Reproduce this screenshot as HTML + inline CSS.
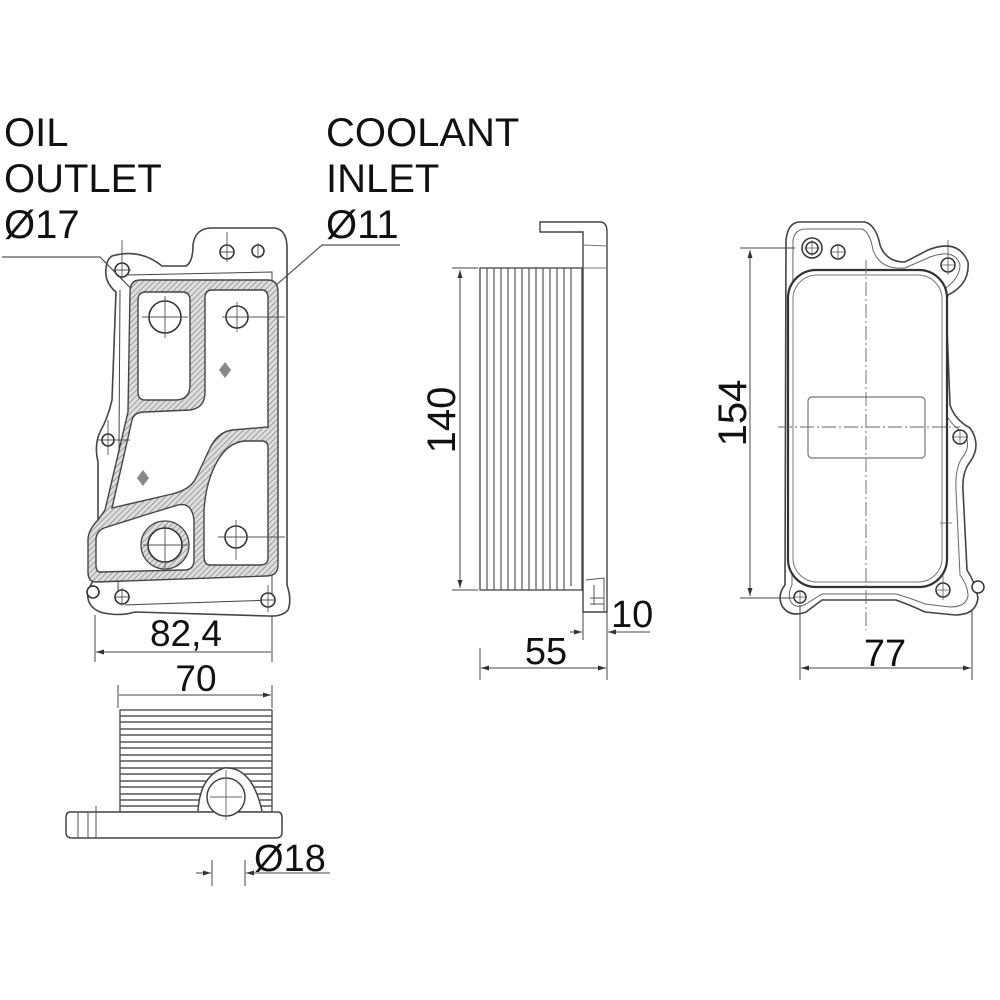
<!DOCTYPE html>
<html><head><meta charset="utf-8"><style>
html,body{margin:0;padding:0;background:#fff}
svg{display:block}
text{font-family:"Liberation Sans",Arial,sans-serif;fill:#111}
</style></head><body>
<svg width="1000" height="1000" viewBox="0 0 1000 1000" xmlns="http://www.w3.org/2000/svg">
<defs>
<pattern id="h" width="4" height="4" patternUnits="userSpaceOnUse" patternTransform="rotate(45)">
<rect width="4" height="4" fill="#ddd"/><line x1="0" y1="0" x2="0" y2="4" stroke="#777" stroke-width="1.2"/>
</pattern>
<marker id="a" markerWidth="8" markerHeight="6" refX="8" refY="3" orient="auto-start-reverse"><path d="M0,0.5 L8,3 L0,5.5Z" fill="#333"/></marker>
</defs>

<!-- labels -->
<g font-size="40">
<text x="4" y="146">OIL</text>
<text x="4" y="192">OUTLET</text>
<text x="4" y="238">Ø17</text>
<text x="326" y="146">COOLANT</text>
<text x="326" y="192">INLET</text>
<text x="326" y="238">Ø11</text>
</g>
<g stroke="#555" stroke-width="1.2" fill="none">
<path d="M2,257 L100,257 L152,310"/>
<path d="M400,245 L322,245 L243,314"/>
</g>

<!-- LEFT FRONT VIEW -->
<g stroke="#444" stroke-width="1.6" fill="none">
<path d="M112,256 Q140,248 162,266 L186,266 Q193,262 193,245 Q195,228 212,228 L275,228 Q287,230 287,248 L287,585 Q292,600 288,610 Q282,617 268,616 L135,612 Q118,617 100,612 Q86,606 88,592 Q92,580 98,575 L98,462 Q94,445 100,432 Q108,418 112,400 L116,292 Q104,282 106,268 Q107,259 112,256 Z"/>
<path d="M120,290 L118,600" stroke-width="1"/>
<path d="M125,275 L272,272 L272,600 L125,605" stroke-width="1"/>
</g>
<!-- gasket -->
<path d="M140,280 L268,280 Q278,280 278,292 L278,565 Q278,576 266,576 L96,582 Q88,582 88,572 L88,540 Q88,530 98,520 L105,510 L128,412 L130,292 Q130,280 140,280 Z" fill="url(#h)" stroke="#444" stroke-width="1.4"/>
<g fill="#fff" stroke="#444" stroke-width="1.4">
<path d="M146,292 L182,292 Q190,292 190,300 L190,385 Q190,400 175,400 L145,400 Q138,400 138,392 L138,300 Q138,292 146,292 Z"/>
<path d="M212,290 L262,290 Q268,290 268,298 L268,427 L232,430 Q218,432 210,448 L196,478 Q190,490 172,494 L112,508 L132,420 Q134,412 145,412 L190,410 Q205,408 205,392 L205,298 Q205,290 212,290 Z"/>
<path d="M104,528 L145,515 L178,505 Q192,502 194,520 L194,560 Q194,570 184,570 L100,572 Q96,572 96,565 L96,538 Q97,531 104,528 Z"/>
<path d="M244,441 L262,441 Q268,441 268,448 L268,558 Q268,565 260,565 L210,565 Q204,565 204,556 L204,510 Q206,480 218,460 Q228,443 244,441 Z"/>
</g>
<circle cx="165" cy="545" r="24" fill="url(#h)" stroke="#444" stroke-width="1.3"/>
<g fill="#fff" stroke="#333" stroke-width="1.6">
<circle cx="165" cy="317" r="16"/>
<circle cx="237" cy="317" r="11"/>
<circle cx="165" cy="545" r="17"/>
<circle cx="236" cy="537" r="11"/>
<circle cx="122" cy="270" r="7"/>
<circle cx="227" cy="252" r="7"/>
<circle cx="258" cy="251" r="6"/>
<circle cx="108" cy="440" r="6"/>
<circle cx="93" cy="592" r="6"/>
<circle cx="122" cy="597" r="7"/>
<circle cx="268" cy="600" r="7"/>
</g>
<g stroke="#555" stroke-width="0.9">
<path d="M142,317 L188,317 M165,296 L165,338 M222,317 L285,317 M237,302 L237,332 M143,545 L188,545 M165,525 L165,568 M218,537 L285,537 M236,520 L236,560 M113,270 L131,270 M122,240 L122,280 M227,232 L227,262 M219,252 L235,252 M258,243 L258,259 M98,440 L130,440 M108,420 L108,455 M268,585 L268,612 M260,600 L276,600 M122,588 L122,606 M114,597 L130,597"/>
<path d="M225,362 L231,370 L225,378 L219,370 Z M143,470 L149,478 L143,486 L137,478 Z" fill="#888" stroke="none"/>
</g>
<!-- dims 82,4 / 70 -->
<g stroke="#444" stroke-width="1">
<path d="M95,615 L95,662 M272,615 L272,662 M118,685 L118,708 M272,685 L272,708"/>
<path d="M96,652 L271,652 M119,695 L271,695" marker-start="url(#a)" marker-end="url(#a)"/>
</g>
<text x="186" y="646" font-size="37" text-anchor="middle">82,4</text>
<text x="196" y="691" font-size="37" text-anchor="middle">70</text>

<!-- bottom view -->
<rect x="120" y="710" width="152" height="102" fill="#fff" stroke="#444" stroke-width="1.3"/>
<g stroke="#555" stroke-width="1.6">
<path d="M120,716H272M120,722H272M120,729H272M120,735H272M120,742H272M120,748H272M120,755H272M120,761H272M120,768H272M120,774H272M120,781H272M120,787H272M120,794H272M120,800H272M120,806H272"/>
</g>
<path d="M70,812 L278,812 Q282,812 282,818 L282,832 Q282,838 276,838 L72,838 Q66,838 66,832 L66,818 Q66,812 70,812 Z" fill="#fff" stroke="#444" stroke-width="1.5"/>
<path d="M78,812 L78,838 M88,812 L88,838 M96,806 L96,838" stroke="#555" stroke-width="1"/>
<path d="M198,811 Q200,776 224,768 Q252,766 262,811" fill="#fff" stroke="#444" stroke-width="1.5"/>
<circle cx="226" cy="797" r="19" fill="#fff" stroke="#444" stroke-width="1.5"/>
<path d="M226,770 L226,820 M210,797 L242,797" stroke="#666" stroke-width="0.9"/>
<g stroke="#444" stroke-width="1">
<path d="M212,860 L212,886 M245,860 L245,886"/>
<path d="M196,873 L211,873" marker-end="url(#a)"/>
<path d="M330,873 L246,873" marker-end="url(#a)"/>
</g>
<text x="254" y="871" font-size="38">Ø18</text>

<!-- MIDDLE SIDE VIEW -->
<rect x="480" y="268" width="102" height="322" fill="#fff" stroke="#444" stroke-width="1.3"/>
<g stroke="#555" stroke-width="1.2">
<path d="M487,268V590M494,268V590M501,268V590M508,268V590M515,268V590M522,268V590M529,268V590M536,268V590M543,268V590M550,268V590M557,268V590M564,268V590M571,268V586"/>
</g>
<path d="M540,222 L600,222 Q607,222 607,232 L607,612 L583,612 L583,232 L540,232 Z" fill="#fff" stroke="#444" stroke-width="1.4"/>
<path d="M583,245 L607,246 M583,268 L607,268" stroke="#777" stroke-width="1"/>
<path d="M586,580 L604,578 L604,612 M590,598 L604,598 M590,604 L604,604 M594,585 L594,605" stroke="#555" stroke-width="1" fill="none"/>
<g stroke="#444" stroke-width="1">
<path d="M452,268 L478,268 M452,590 L478,590 M583,612 L583,640 M607,612 L607,680 M480,648 L480,680"/>
<path d="M460,270 L460,588" marker-start="url(#a)" marker-end="url(#a)"/>
<path d="M570,632 L582,632" marker-end="url(#a)"/>
<path d="M650,632 L608,632" marker-end="url(#a)"/>
<path d="M481,668 L606,668" marker-start="url(#a)" marker-end="url(#a)"/>
</g>
<text x="0" y="0" font-size="40" text-anchor="middle" transform="translate(455,420) rotate(-90)">140</text>
<text x="611" y="627" font-size="38">10</text>
<text x="546" y="664" font-size="38" text-anchor="middle">55</text>

<!-- RIGHT VIEW -->
<path d="M800,222 L865,222 Q876,225 880,245 Q886,262 905,262 L928,250 Q958,238 968,262 Q970,284 948,295 L946,302 L950,405 Q955,420 970,428 Q982,445 970,462 Q962,472 963,490 L967,570 Q976,584 978,598 Q976,615 955,615 L925,612 Q910,605 896,600 L822,600 L806,612 Q790,618 782,606 Q777,595 785,585 L786,240 Q788,222 800,222 Z" fill="#fff" stroke="#444" stroke-width="1.6"/>
<path d="M806,229 L862,229 Q870,232 873,250 Q880,270 905,268 L930,257 Q955,248 960,265 Q960,280 940,292 L940,300 L944,410 Q950,425 964,433 Q972,446 962,458 Q955,468 956,490 L960,575 Q968,586 968,596 Q966,607 950,607 L925,604 Q910,598 896,594 L822,594 L806,604 Q794,610 790,600 Q788,592 792,585 L793,240 Q795,229 806,229 Z" fill="none" stroke="#666" stroke-width="1"/>
<rect x="788" y="270" width="159" height="317" rx="28" fill="#fff" stroke="#333" stroke-width="2.2"/>
<rect x="793" y="275" width="149" height="307" rx="24" fill="none" stroke="#777" stroke-width="1"/>
<rect x="808" y="397" width="117" height="61" rx="4" fill="none" stroke="#777" stroke-width="1.2"/>
<g stroke="#666" stroke-width="0.9">
<path d="M866,260 L866,630 M778,427 L960,427" stroke-dasharray="14,3,2,3"/>
</g>
<g fill="#fff" stroke="#333" stroke-width="1.5">
<circle cx="812" cy="248" r="10"/><circle cx="812" cy="248" r="6"/>
<circle cx="838" cy="252" r="7"/>
<circle cx="948" cy="265" r="7"/>
<circle cx="960" cy="437" r="7"/>
<circle cx="943" cy="590" r="7"/>
<circle cx="978" cy="587" r="6"/>
<circle cx="800" cy="597" r="6"/>
</g>
<g stroke="#555" stroke-width="0.8">
<path d="M804,248H820M812,240V256M831,252H845M838,245V259M941,265H955M948,240V275M953,437H967M960,430V444M936,590H950M943,575V600M793,597H807M800,590V604M940,523 L952,523"/>
</g>
<g stroke="#444" stroke-width="1">
<path d="M740,248 L795,248 M740,598 L795,598 M800,605 L800,680 M972,610 L972,680"/>
<path d="M750,250 L750,596" marker-start="url(#a)" marker-end="url(#a)"/>
<path d="M801,668 L971,668" marker-start="url(#a)" marker-end="url(#a)"/>
</g>
<text x="0" y="0" font-size="40" text-anchor="middle" transform="translate(746,413) rotate(-90)">154</text>
<text x="885" y="666" font-size="38" text-anchor="middle">77</text>
</svg>
</body></html>
